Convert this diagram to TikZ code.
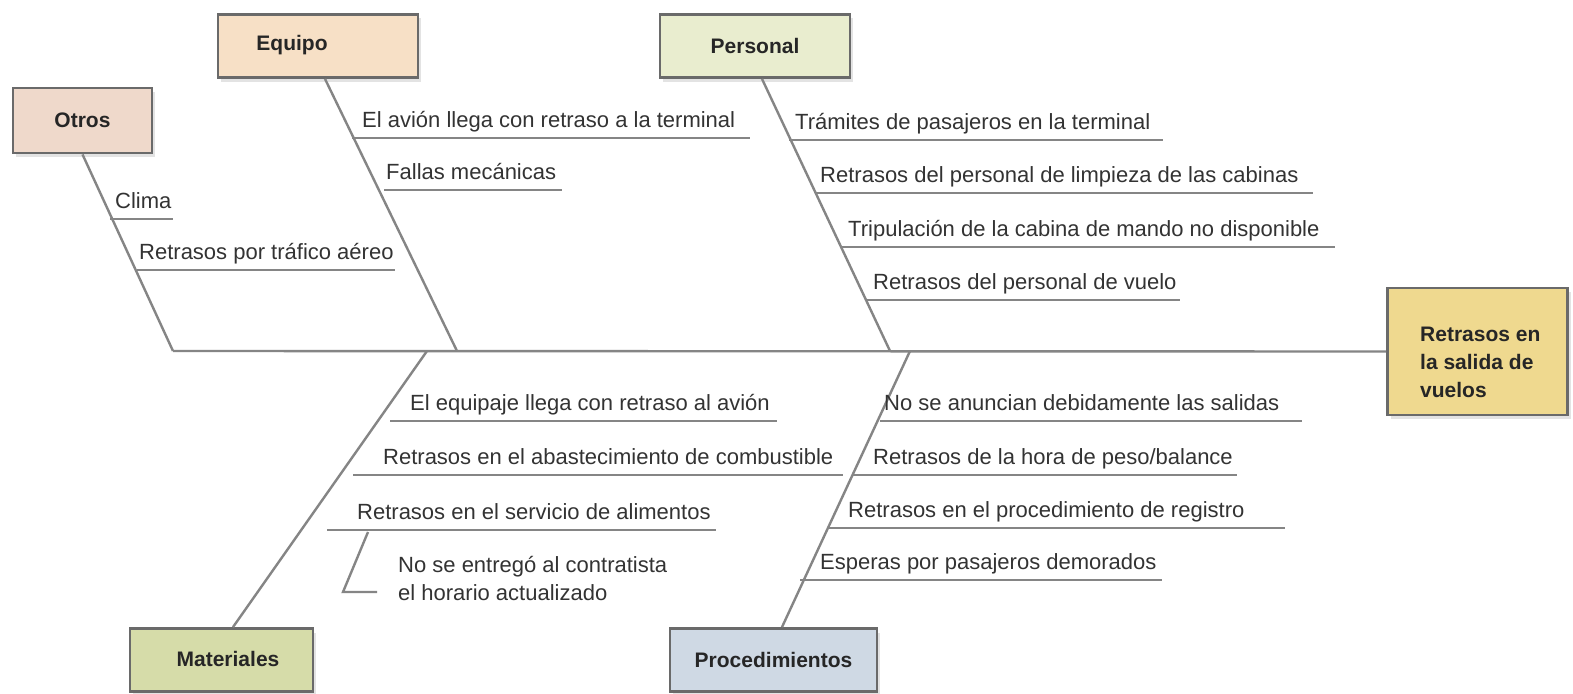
\documentclass[tikz,border=0pt]{standalone}
\usepackage{fontspec}
\setmainfont{Liberation Sans}
\usetikzlibrary{shadows}
\definecolor{linegray}{HTML}{858585}
\definecolor{boxborder}{HTML}{6A6A6A}
\definecolor{txt}{HTML}{333333}
\definecolor{cEquipo}{HTML}{F7E0C6}
\definecolor{cPersonal}{HTML}{E9EDCF}
\definecolor{cOtros}{HTML}{EFD9CB}
\definecolor{cMat}{HTML}{D6DCA9}
\definecolor{cProc}{HTML}{CFD9E4}
\definecolor{cEfecto}{HTML}{EFD98F}
\begin{document}
\begin{tikzpicture}[x=1pt,y=-1pt,
  catbox/.style={draw=boxborder, line width=2.8pt, inner sep=0pt,
    font=\fontsize{21}{25}\selectfont\bfseries, text=black!85,
    drop shadow={shadow xshift=3pt,shadow yshift=-4pt,opacity=.22}},
  boxtext/.style={inner sep=0pt, font=\fontsize{21}{28}\selectfont\bfseries, text=black!85},
  bone/.style={draw=linegray, line width=2.4pt},
  uline/.style={draw=linegray, line width=2.8pt},
  lbl/.style={anchor=base west, inner sep=0pt, font=\fontsize{22}{26}\selectfont, text=txt},
]
\useasboundingbox[fill=white] (0,0) rectangle (1573,693);

% category boxes
\node[catbox, fill=cEquipo, minimum width=200pt, minimum height=63pt] (equipo) at (318,46) {};
\node[boxtext] (equipotxt) at (292,45) {Equipo};
\node[catbox, fill=cPersonal, minimum width=190pt, minimum height=63pt] (personal) at (755,46) {Personal};
\node[catbox, fill=cOtros, minimum width=139pt, minimum height=65pt] (otros) at (82.5,120.5) {Otros};
\node[catbox, fill=cMat, minimum width=183pt, minimum height=63pt] (materiales) at (221.5,660) {};
\node[boxtext] (materialestxt) at (228,659) {Materiales};
\node[catbox, fill=cProc, minimum width=207pt, minimum height=63pt] (proced) at (773.5,660) {Procedimientos};
\node[catbox, fill=cEfecto, minimum width=180pt, minimum height=127pt] (efecto) at (1477.5,351.5) {};
\node[boxtext, align=left, anchor=west] (efectotxt) at (1420,362) {Retrasos en\\la salida de\\vuelos};

% spine points
\coordinate (sp0) at (173,351);
\coordinate (maj) at (427,351);
\coordinate (eqj) at (457,351);
\coordinate (pej) at (890,351);
\coordinate (prj) at (910,351);

% bones
\draw[bone] (otros.south) -- (sp0);
\draw[bone] (sp0) -- (efecto.west);
\draw[bone] ([xshift=7pt]equipo.south) -- (eqj);
\draw[bone] ([xshift=7pt]personal.south) -- (pej);
\draw[bone] (maj) -- ([xshift=11.5pt]materiales.north);
\draw[bone] (prj) -- ([xshift=8.5pt]proced.north);

% Equipo causes
\node[lbl] (e1) at (362,127) {El avión llega con retraso a la terminal};
\draw[uline] (352,138) -- (750,138);
\node[lbl] (e2) at (386,179) {Fallas mecánicas};
\draw[uline] (384,190) -- (562,190);

% Otros causes
\node[lbl] (o1) at (115,208) {Clima};
\draw[uline] (110,219) -- (173,219);
\node[lbl] (o2) at (139,259) {Retrasos por tráfico aéreo};
\draw[uline] (137,270) -- (395,270);

% Personal causes
\node[lbl] (p1) at (795,129) {Trámites de pasajeros en la terminal};
\draw[uline] (789,140) -- (1163,140);
\node[lbl] (p2) at (820,182) {Retrasos del personal de limpieza de las cabinas};
\draw[uline] (815,193) -- (1313,193);
\node[lbl] (p3) at (848,236) {Tripulación de la cabina de mando no disponible};
\draw[uline] (842,247) -- (1335,247);
\node[lbl] (p4) at (873,289) {Retrasos del personal de vuelo};
\draw[uline] (867,300) -- (1180,300);

% Materiales causes
\node[lbl] (m1) at (410,410) {El equipaje llega con retraso al avión};
\draw[uline] (390,421) -- (777,421);
\node[lbl] (m2) at (383,464) {Retrasos en el abastecimiento de combustible};
\draw[uline] (353,475) -- (843,475);
\node[lbl] (m3) at (357,519) {Retrasos en el servicio de alimentos};
\draw[uline] (327,530) -- (716,530);
\coordinate (s0) at (368,532);
\coordinate (s1) at (343,592);
\coordinate (s2) at (377,592);
\draw[bone] (s0) -- (s1) -- (s2);
\node[lbl] (m4) at (398,572) {No se entregó al contratista};
\node[lbl] (m5) at (398,600) {el horario actualizado};

% Procedimientos causes
\node[lbl] (r1) at (884,410) {No se anuncian debidamente las salidas};
\draw[uline] (880,421) -- (1302,421);
\node[lbl] (r2) at (873,464) {Retrasos de la hora de peso/balance};
\draw[uline] (852,475) -- (1237,475);
\node[lbl] (r3) at (848,517) {Retrasos en el procedimiento de registro};
\draw[uline] (827,528) -- (1285,528);
\node[lbl] (r4) at (820,569) {Esperas por pasajeros demorados};
\draw[uline] (800,580) -- (1162,580);
\end{tikzpicture}
\end{document}
